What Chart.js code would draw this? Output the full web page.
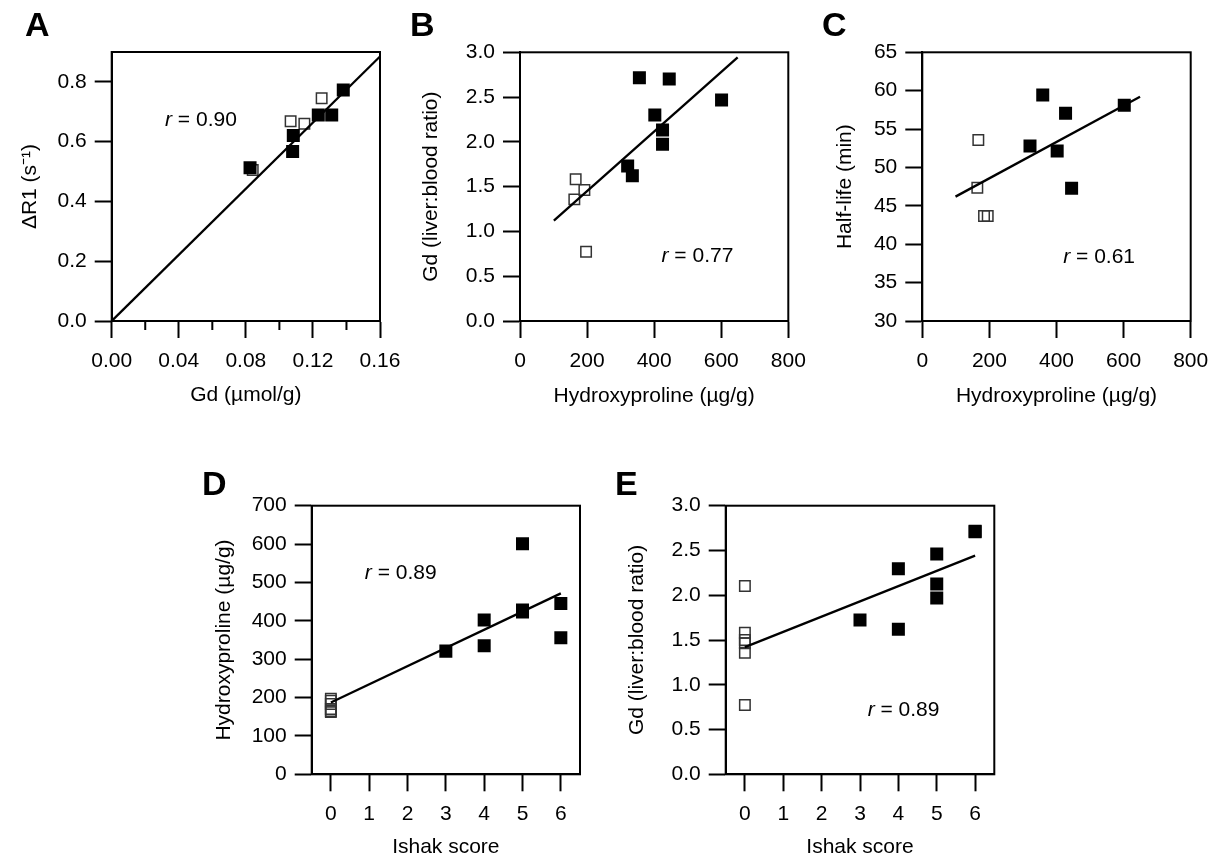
<!DOCTYPE html>
<html>
<head>
<meta charset="utf-8">
<script src="https://cdn.jsdelivr.net/npm/chart.js@4.4.0/dist/chart.umd.min.js"></script>
<style>
  html, body { margin: 0; padding: 0; background: #fff; }
  #wrap { position: relative; width: 1223px; height: 861px; }
  canvas { position: absolute; left: 0; top: 0; }
</style>
</head>
<body>
<div id="wrap">
  <canvas id="cA" width="1223" height="861"></canvas>
  <canvas id="cB" width="1223" height="861"></canvas>
  <canvas id="cC" width="1223" height="861"></canvas>
  <canvas id="cD" width="1223" height="861"></canvas>
  <canvas id="cE" width="1223" height="861"></canvas>
</div>
<script>
// ---- datos ----
// A: ΔR1 vs Gd
const gdA_llenos = [0.0825, 0.1083, 0.1079, 0.1232, 0.1312, 0.1381];
const r1A_llenos = [0.513, 0.621, 0.567, 0.689, 0.689, 0.773];
const gdA_vacios = [0.0841, 0.1067, 0.1149, 0.1252];
const r1A_vacios = [0.505, 0.668, 0.660, 0.745];
const ajusteA_x = [0, 0.16];
const ajusteA_y = [0, 0.885];
const ticksA_x = [0, 0.04, 0.08, 0.12, 0.16];
const menoresA_x = [0.02, 0.06, 0.10, 0.14];
const ticksA_y = [0, 0.2, 0.4, 0.6, 0.8];

// B: Gd (hígado:sangre) vs hidroxiprolina
const hypB_llenos = [356, 445, 601, 402, 425, 425, 321, 335];
const gdB_llenos = [2.717, 2.702, 2.468, 2.300, 2.133, 1.973, 1.731, 1.623];
const hypB_vacios = [166, 192, 162, 197];
const gdB_vacios = [1.582, 1.463, 1.358, 0.774];
const ajusteB_x = [101, 649];
const ajusteB_y = [1.12, 2.944];

// C: vida media vs hidroxiprolina
const hypC_llenos = [359, 427, 602, 321, 402, 445];
const vidaC_llenos = [59.44, 57.05, 58.10, 52.80, 52.15, 47.28];
const hypC_vacios = [167, 164, 184, 195];
const vidaC_vacios = [53.58, 47.37, 43.68, 43.68];
const ajusteC_x = [99, 649];
const ajusteC_y = [46.2, 59.2];
const ticksHyp = [0, 200, 400, 600, 800];
const ticksB_y = [0, 0.5, 1.0, 1.5, 2.0, 2.5, 3.0];
const ticksC_y = [30, 35, 40, 45, 50, 55, 60, 65];

// D: hidroxiprolina vs Ishak
const ishakD_llenos = [3, 4, 4, 5, 5, 5, 6, 6];
const hypD_llenos = [321, 402, 335, 601, 423, 428, 445, 356];
const ishakD_vacios = [0, 0, 0, 0, 0, 0];
const hypD_vacios = [197, 192, 183, 170, 165, 162];
const ajusteD_x = [0, 6];
const ajusteD_y = [187, 471.6];
const ticksD_y = [0, 100, 200, 300, 400, 500, 600, 700];

// E: Gd vs Ishak
const ishakE_llenos = [3, 4, 4, 5, 5, 5, 6, 6];
const gdE_llenos = [1.723, 2.297, 1.619, 2.460, 2.125, 1.969, 2.710, 2.715];
const ishakE_vacios = [0, 0, 0, 0, 0, 0];
const gdE_vacios = [2.103, 1.582, 1.500, 1.463, 1.358, 0.774];
const ajusteE_x = [0, 6];
const ajusteE_y = [1.42, 2.442];
const ticksIshak = [0, 1, 2, 3, 4, 5, 6];

const FUENTE = '"Liberation Sans", Arial, sans-serif';
const TAM = 21;
const MEDIA_LINEA = TAM * 1.2 / 2;

function unir(xs, ys) {
  return xs.map((x, i) => ({ x: x, y: ys[i] }));
}

// marco del área de datos + marcas menores
const marco = {
  id: 'marco',
  beforeDatasetsDraw(chart, args, opts) {
    const { ctx, chartArea: a } = chart;
    ctx.save();
    ctx.strokeStyle = '#000';
    ctx.lineWidth = 2;
    ctx.strokeRect(a.left, a.top, a.right - a.left, a.bottom - a.top);
    if (opts.menores) {
      const x = chart.scales.x;
      ctx.beginPath();
      opts.menores.forEach(v => {
        const px = x.getPixelForValue(v);
        ctx.moveTo(px, a.bottom);
        ctx.lineTo(px, a.bottom + 9);
      });
      ctx.stroke();
    }
    ctx.restore();
  }
};

// texto "r = ..." y letra del panel
const rotulos = {
  id: 'rotulos',
  afterDraw(chart, args, opts) {
    const { ctx } = chart;
    const px = chart.scales.x.getPixelForValue(opts.x);
    const py = chart.scales.y.getPixelForValue(opts.y);
    ctx.save();
    ctx.fillStyle = '#000';
    ctx.textAlign = 'left';
    ctx.textBaseline = 'alphabetic';
    ctx.font = 'italic ' + TAM + 'px ' + FUENTE;
    ctx.fillText('r', px, py);
    const w = ctx.measureText('r').width;
    ctx.font = TAM + 'px ' + FUENTE;
    ctx.fillText(' = ' + opts.texto, px + w, py);
    ctx.font = 'bold 34px ' + FUENTE;
    ctx.fillText(opts.letra, opts.lx, opts.ly);
    ctx.restore();
  }
};

function eje(min, max, ticks, dec, titulo, esY) {
  return {
    type: 'linear',
    min: min,
    max: max,
    afterBuildTicks: s => { s.ticks = ticks.map(v => ({ value: v })); },
    ticks: {
      callback: v => v.toFixed(dec),
      color: '#000',
      font: { family: FUENTE, size: TAM },
      padding: esY ? 8 : 10.5,
      autoSkip: false,
      maxRotation: 0
    },
    grid: { drawOnChartArea: false, drawTicks: true, tickLength: 17, tickWidth: 2, tickColor: '#000' },
    border: { display: true, color: '#000', width: 2 },
    title: { display: true, text: titulo, color: '#000', font: { family: FUENTE, size: TAM }, padding: 0 }
  };
}

// caja: L,T,R,B del área de datos; ty = centro x del título Y; tx = centro y del título X
function panel(id, caja, ty, tx, ejeX, ejeY, llenos, vacios, ajuste, rot, menores) {
  const [L, T, R, B] = caja;
  const izq = ty - MEDIA_LINEA;
  const abajo = tx + MEDIA_LINEA;
  ejeX.afterFit = s => { s.height = abajo - B; };
  ejeY.afterFit = s => { s.width = L - izq; };
  new Chart(document.getElementById(id), {
    type: 'scatter',
    data: {
      datasets: [
        { data: ajuste, showLine: true, borderColor: '#000', borderWidth: 2.3, pointRadius: 0 },
        { data: llenos, pointStyle: 'rect', pointRadius: 9.2, backgroundColor: '#000', borderColor: '#000', borderWidth: 0 },
        { data: vacios, pointStyle: 'rect', pointRadius: 7.4, backgroundColor: 'rgba(0,0,0,0)', borderColor: '#333', borderWidth: 1.5 }
      ]
    },
    options: {
      responsive: false,
      animation: false,
      events: [],
      layout: { autoPadding: false, padding: { left: izq, top: T, right: 1223 - R, bottom: 861 - abajo } },
      scales: { x: ejeX, y: ejeY },
      plugins: {
        legend: { display: false },
        tooltip: { enabled: false },
        marco: { menores: menores || null },
        rotulos: rot
      }
    },
    plugins: [marco, rotulos]
  });
}

panel('cA', [111.7, 52, 380, 321], 30, 395,
  eje(0, 0.16, ticksA_x, 2, 'Gd (µmol/g)', false),
  eje(0, 0.9, ticksA_y, 1, 'ΔR1 (s⁻¹)', true),
  unir(gdA_llenos, r1A_llenos), unir(gdA_vacios, r1A_vacios), unir(ajusteA_x, ajusteA_y),
  { x: 0.0318, y: 0.652, texto: '0.90', letra: 'A', lx: 25, ly: 36 }, menoresA_x);

panel('cB', [520, 52.3, 788.3, 321], 431.5, 396,
  eje(0, 800, ticksHyp, 0, 'Hydroxyproline (µg/g)', false),
  eje(0, 3, ticksB_y, 1, 'Gd (liver:blood ratio)', true),
  unir(hypB_llenos, gdB_llenos), unir(hypB_vacios, gdB_vacios), unir(ajusteB_x, ajusteB_y),
  { x: 422, y: 0.662, texto: '0.77', letra: 'B', lx: 410, ly: 36 });

panel('cC', [922.3, 52.3, 1190.7, 321], 845, 396,
  eje(0, 800, ticksHyp, 0, 'Hydroxyproline (µg/g)', false),
  eje(30, 65, ticksC_y, 0, 'Half-life (min)', true),
  unir(hypC_llenos, vidaC_llenos), unir(hypC_vacios, vidaC_vacios), unir(ajusteC_x, ajusteC_y),
  { x: 420, y: 37.6, texto: '0.61', letra: 'C', lx: 822, ly: 36 });

panel('cD', [311.7, 505.7, 580, 774.3], 224, 847,
  eje(-0.5, 6.5, ticksIshak, 0, 'Ishak score', false),
  eje(0, 700, ticksD_y, 0, 'Hydroxyproline (µg/g)', true),
  unir(ishakD_llenos, hypD_llenos), unir(ishakD_vacios, hypD_vacios), unir(ajusteD_x, ajusteD_y),
  { x: 0.887, y: 509, texto: '0.89', letra: 'D', lx: 202, ly: 495 });

panel('cE', [725.7, 505.7, 994.3, 774.3], 637, 847,
  eje(-0.5, 6.5, ticksIshak, 0, 'Ishak score', false),
  eje(0, 3, ticksB_y, 1, 'Gd (liver:blood ratio)', true),
  unir(ishakE_llenos, gdE_llenos), unir(ishakE_vacios, gdE_vacios), unir(ajusteE_x, ajusteE_y),
  { x: 3.2, y: 0.655, texto: '0.89', letra: 'E', lx: 615, ly: 495 });
</script>
</body>
</html>
